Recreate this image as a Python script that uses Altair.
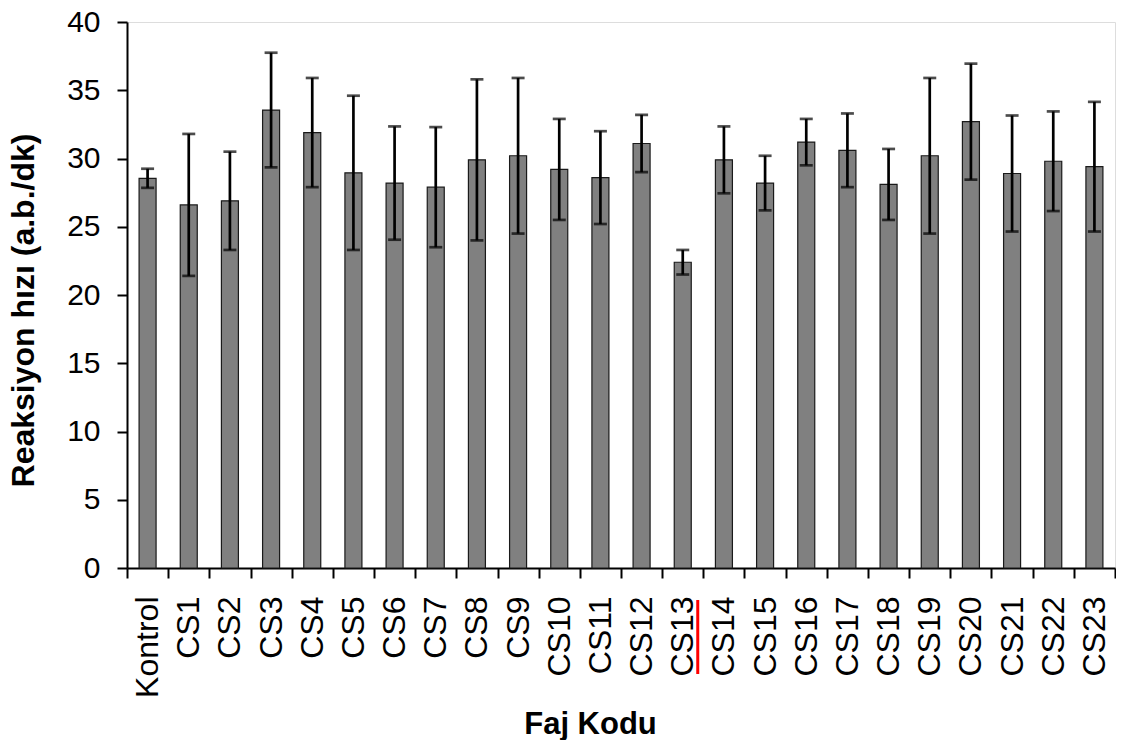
import altair as alt
import pandas as pd

categories = ["Kontrol", "CS1", "CS2", "CS3", "CS4", "CS5", "CS6", "CS7", "CS8", "CS9",
              "CS10", "CS11", "CS12", "CS13", "CS14", "CS15", "CS16", "CS17", "CS18",
              "CS19", "CS20", "CS21", "CS22", "CS23"]
means = [28.55, 26.6, 26.9, 33.55, 31.9, 28.95, 28.2, 27.9, 29.9, 30.2,
         29.2, 28.6, 31.1, 22.4, 29.9, 28.2, 31.2, 30.6, 28.1,
         30.2, 32.7, 28.9, 29.8, 29.4]
errors = [0.7, 5.2, 3.6, 4.2, 4.0, 5.65, 4.15, 4.4, 5.9, 5.7,
          3.7, 3.4, 2.1, 0.9, 2.45, 2.0, 1.7, 2.7, 2.6,
          5.7, 4.25, 4.25, 3.65, 4.75]
y_ticks = [0, 5, 10, 15, 20, 25, 30, 35, 40]
marked_category = "CS13"

df = pd.DataFrame({"kod": categories, "hiz": means, "err": errors})
df["lo"] = df["hiz"] - df["err"]
df["hi"] = df["hiz"] + df["err"]

FONT = "Liberation Sans"

xscale = alt.Scale(domain=categories, paddingInner=0, paddingOuter=0)
yscale = alt.Scale(domain=[0, 40], nice=False)

x_axis = alt.Axis(
    title="Faj Kodu", labelAngle=-90, labelFontSize=32, labelPadding=18,
    labelFont=FONT, labelColor="black", tickBand="extent", tickSize=10,
    tickWidth=2, tickColor="black", domainWidth=2, domainColor="black",
    titleFont=FONT, titleFontSize=31, titleFontWeight="bold", titleColor="black",
    titleX=463, titleY=165, titleBaseline="alphabetic", titleAlign="center",
    grid=False,
)
y_axis = alt.Axis(
    title="Reaksiyon hızı (a.b./dk)", values=y_ticks, labelFontSize=30,
    labelPadding=17, labelFont=FONT, labelColor="black", tickSize=10,
    tickWidth=2, tickColor="black", domainWidth=2, domainColor="black",
    titleFont=FONT, titleFontSize=32, titleFontWeight="bold", titleColor="black",
    titleX=-94, titleY=288, titleAngle=270, titleBaseline="alphabetic",
    titleAlign="center", grid=False,
)

X = alt.X("kod:N", sort=categories, scale=xscale, axis=x_axis)

bars = alt.Chart(df).mark_bar(
    size=17, color="#808080", stroke="#1a1a1a", strokeWidth=1.2
).encode(
    x=X,
    y=alt.Y("hiz:Q", scale=yscale, axis=y_axis),
)

err_rule = alt.Chart(df).mark_rule(color="black", strokeWidth=2.7).encode(
    x=X, y=alt.Y("lo:Q", scale=yscale), y2="hi:Q"
)
cap_hi = alt.Chart(df).mark_tick(color="black", size=13, thickness=2.7).encode(
    x=X, y=alt.Y("hi:Q", scale=yscale)
)
cap_lo = alt.Chart(df).mark_tick(color="black", size=13, thickness=2.7).encode(
    x=X, y=alt.Y("lo:Q", scale=yscale)
)

red = alt.Chart(pd.DataFrame({"kod": [marked_category]})).mark_rule(
    color="#ff0000", strokeWidth=3, xOffset=15
).encode(
    x=X, y=alt.value(578), y2=alt.value(652)
)

chart = alt.layer(bars, err_rule, cap_hi, cap_lo, red).properties(
    width=988, height=546,
    autosize=alt.AutoSizeParams(type="none"),
    padding={"left": 119, "top": 14, "right": 1, "bottom": 172},
).configure_view(
    stroke="black", strokeWidth=2
).configure(background="white")

chart.save("out.html", embed_options={"renderer": "svg", "actions": False})
